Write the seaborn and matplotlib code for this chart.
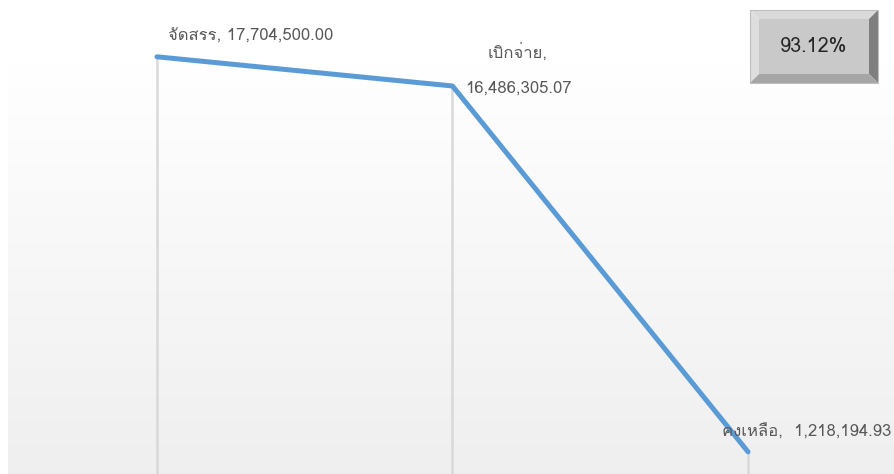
import numpy as np
import pandas as pd
import matplotlib
matplotlib.use("Agg")
import matplotlib.pyplot as plt
import seaborn as sns
from matplotlib import font_manager
from matplotlib.patches import Polygon, Rectangle

# ---- data ----
categories = ["จัดสรร", "เบิกจ่าย", "คงเหลือ"]
values = [17704500.00, 16486305.07, 1218194.93]
value_labels = ["17,704,500.00", "16,486,305.07", "1,218,194.93"]
percent_text = "93.12%"

# ---- fonts: find one with Thai glyphs ----
def find_thai_font():
    try:
        from matplotlib.ft2font import FT2Font
    except Exception:
        return None
    seen = set()
    for f in font_manager.fontManager.ttflist:
        if f.name in seen:
            continue
        try:
            cm = FT2Font(f.fname).get_charmap()
            if 0x0E08 in cm and 0x0E31 in cm:
                return f.name
        except Exception:
            pass
        seen.add(f.name)
    return None

sns.set_theme(style="white")
thai = find_thai_font()
families = ([thai] if thai else []) + ["DejaVu Sans"]
plt.rcParams["font.family"] = families

W, H = 895, 474
fig = plt.figure(figsize=(W / 100, H / 100), dpi=100)

def fx(px):
    return px / W

def fy(py):
    return 1 - py / H

# background gradient (plot area)
bg = fig.add_axes([fx(8), 0, fx(887), (H - 62) / H], zorder=0)
grad = np.linspace(0, 1, 256).reshape(-1, 1)
top_c = np.array([1.0, 1.0, 1.0])
bot_c = np.array([0.937, 0.937, 0.937])
img = top_c[None, None, :] * (1 - grad[..., None]) + bot_c[None, None, :] * grad[..., None]
bg.imshow(img, aspect="auto", extent=[0, 1, 0, 1], origin="upper")
bg.set_axis_off()

# main axes: ylim 0..20M, bottom at y=481px, top ~1.8px
ymax = 20_000_000
ppu = 2.396e-5
top_px = 481 - ymax * ppu
ax = fig.add_axes([fx(9.25), (H - 481) / H, fx(886.5), (481 - top_px) / H], zorder=1)
ax.patch.set_alpha(0)
df = pd.DataFrame({"pos": np.arange(len(categories)), "value": values, "cat": categories})

ax.vlines(df["pos"], 0, df["value"], color="#d9d9d9", lw=1.8, zorder=1)
sns.lineplot(data=df, x="pos", y="value", sort=False, ax=ax, color="#5b9bd5",
             lw=3.6, zorder=3, solid_capstyle="round", solid_joinstyle="round")
ax.set_xlim(-0.5, len(categories) - 0.5)
ax.set_ylim(0, ymax)
ax.set_axis_off()

lab_kw = dict(textcoords="offset points", fontsize=12, color="#595959", zorder=5,
              annotation_clip=False)
pt = 0.72
# label 1
ax.annotate(f"{categories[0]}, {value_labels[0]}", (0, values[0]),
            xytext=(11 * pt, 20 * pt), ha="left", va="center", **lab_kw)
# label 2 (two lines)
ax.annotate(f"{categories[1]},", (1, values[1]),
            xytext=(65 * pt, 34 * pt), ha="center", va="center", **lab_kw)
ax.annotate(value_labels[1], (1, values[1]),
            xytext=(66 * pt, -3 * pt), ha="center", va="center", **lab_kw)
# label 3
ax.annotate(f"{categories[2]},  {value_labels[2]}", (2, values[2]),
            xytext=(-26 * pt, 19 * pt), ha="left", va="center", **lab_kw)

# bevelled box
x0, y0, x1, y1 = 750, 10, 878, 83
b = 9
def P(pts, color):
    fig.patches.append(Polygon([(fx(a), fy(c)) for a, c in pts], closed=True,
                               transform=fig.transFigure, facecolor=color,
                               edgecolor="none", zorder=10))
P([(x0, y0), (x1, y0), (x1 - b, y0 + b), (x0 + b, y0 + b)], "#dadada")
P([(x0, y0), (x0 + b, y0 + b), (x0 + b, y1 - b), (x0, y1)], "#dedede")
P([(x1, y0), (x1, y1), (x1 - b, y1 - b), (x1 - b, y0 + b)], "#7f7f7f")
P([(x0, y1), (x0 + b, y1 - b), (x1 - b, y1 - b), (x1, y1)], "#a6a6a6")
P([(x0 + b, y0 + b), (x1 - b, y0 + b), (x1 - b, y1 - b), (x0 + b, y1 - b)], "#c9c9c9")
fig.patches.append(Rectangle((fx(x0), fy(y1)), fx(x1 - x0), (y1 - y0) / H,
                             transform=fig.transFigure, facecolor="none",
                             edgecolor="#bfbfbf", lw=0.8, zorder=11))
fig.text(fx((x0 + x1) / 2), fy((y0 + y1) / 2), percent_text, ha="center", va="center",
         fontsize=14.3, color="#262626", zorder=12)

fig.savefig("out.png", dpi=100)
